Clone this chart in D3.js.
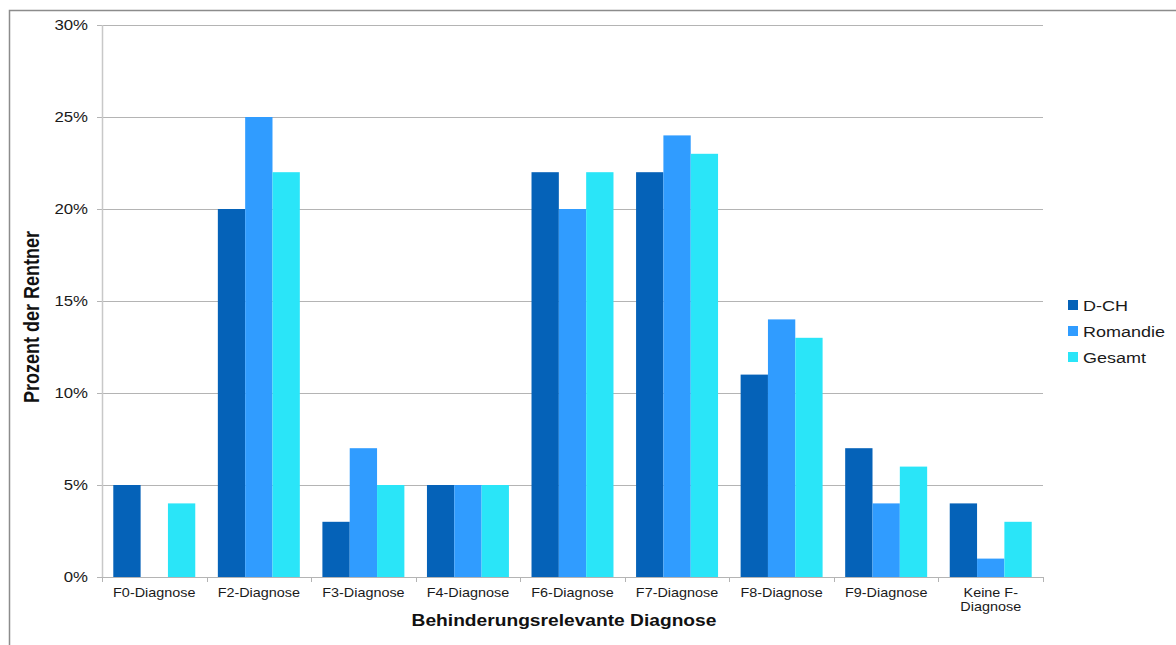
<!DOCTYPE html>
<html>
<head>
<meta charset="utf-8">
<script src="https://cdn.jsdelivr.net/npm/d3@7"></script>
<style>
  html, body { margin: 0; padding: 0; background: #fff; }
  svg { display: block; font-family: "Liberation Sans", Arial, sans-serif; }
</style>
</head>
<body>
<svg id="chart" width="1176" height="645"></svg>
<script>
const categories = ["F0-Diagnose", "F2-Diagnose", "F3-Diagnose", "F4-Diagnose", "F6-Diagnose", "F7-Diagnose", "F8-Diagnose", "F9-Diagnose", "Keine F-Diagnose"];
const seriesNames = ["D-CH", "Romandie", "Gesamt"];
const dch      = [5, 20, 3, 5, 22, 22, 11, 7, 4];
const romandie = [0, 25, 7, 5, 20, 24, 14, 4, 1];
const gesamt   = [4, 22, 5, 5, 22, 23, 13, 6, 3];
const yTicks = [0, 5, 10, 15, 20, 25, 30];
const colors = ["#0562b8", "#309cff", "#2ae5f8"];

(function () {
const seriesValues = [dch, romandie, gesamt];
const SX = 1.2; // horizontal stretch of text in the reference

const svg = d3.select("#chart");
const pLeft = 102, pRight = 1043, pTop = 25, pBottom = 577;

// outer border
svg.append("rect").attr("x", 9.5).attr("y", 10.5).attr("width", 1200).attr("height", 700)
  .attr("fill", "none").attr("stroke", "#8c8c8c").attr("stroke-width", 1.5);

const x = d3.scaleBand().domain(categories).range([pLeft, pRight]).padding(0);
const off = x.bandwidth() * 0.108;
const xs = d3.scaleBand().domain(seriesNames).range([off, x.bandwidth() - off]).padding(0);
const y = d3.scaleLinear().domain([0, 30]).range([pBottom, pTop]);

// gridlines
svg.append("g").selectAll("line").data(yTicks.filter(d => d > 0)).join("line")
  .attr("x1", pLeft - 5).attr("x2", pRight)
  .attr("y1", d => Math.round(y(d)) + 0.5).attr("y2", d => Math.round(y(d)) + 0.5)
  .attr("stroke", "#b4b4b4").attr("stroke-width", 1);

// bars
const rows = categories.map((c, i) => ({ c, vals: seriesNames.map((s, j) => ({ s, j, v: seriesValues[j][i] })) }));
const groups = svg.append("g").selectAll("g").data(rows).join("g")
  .attr("transform", d => `translate(${x(d.c)},0)`);
groups.selectAll("rect").data(d => d.vals.filter(e => e.v > 0)).join("rect")
  .attr("x", d => xs(d.s))
  .attr("width", xs.bandwidth())
  .attr("y", d => y(d.v))
  .attr("height", d => y(0) - y(d.v))
  .attr("fill", d => colors[d.j]);

// y axis line
svg.append("line").attr("x1", pLeft + 0.5).attr("x2", pLeft + 0.5).attr("y1", pTop).attr("y2", pBottom)
  .attr("stroke", "#c8c8c8").attr("stroke-width", 1.5);
// x axis line
svg.append("line").attr("x1", pLeft - 5).attr("x2", pRight).attr("y1", pBottom + 0.5).attr("y2", pBottom + 0.5)
  .attr("stroke", "#b4b4b4").attr("stroke-width", 1);
// x ticks at band boundaries
const bounds = categories.map(c => x(c)).concat([pRight]);
svg.append("g").selectAll("line").data(bounds).join("line")
  .attr("x1", d => Math.round(d) + 0.5).attr("x2", d => Math.round(d) + 0.5)
  .attr("y1", pBottom).attr("y2", pBottom + 5)
  .attr("stroke", "#b4b4b4");

// y tick labels
svg.append("g").selectAll("text").data(yTicks).join("text")
  .attr("transform", d => `translate(88,${y(d) + 5}) scale(${SX},1)`)
  .attr("text-anchor", "end").attr("font-size", 14).attr("fill", "#1a1a1a")
  .text(d => d + "%");

// x tick labels
const xl = svg.append("g").selectAll("text").data(categories).join("text")
  .attr("transform", d => `translate(${x(d) + x.bandwidth() / 2},597) scale(${SX},1)`)
  .attr("text-anchor", "middle").attr("font-size", 12).attr("fill", "#1a1a1a");
xl.each(function(d) {
  const t = d3.select(this);
  if (d === "Keine F-Diagnose") {
    t.append("tspan").attr("x", 0).attr("dy", 0).text("Keine F-");
    t.append("tspan").attr("x", 0).attr("dy", 14).text("Diagnose");
  } else {
    t.text(d);
  }
});

// axis titles
svg.append("text")
  .attr("transform", `translate(564,626) scale(${SX},1)`)
  .attr("text-anchor", "middle").attr("font-size", 16).attr("font-weight", "bold").attr("fill", "#111")
  .text("Behinderungsrelevante Diagnose");
svg.append("text")
  .attr("transform", `translate(39,317) scale(${SX},1) rotate(-90)`)
  .attr("text-anchor", "middle").attr("font-size", 18).attr("font-weight", "bold").attr("fill", "#111")
  .text("Prozent der Rentner");

// legend
const legendY = [305, 331, 357];
const lg = svg.append("g").selectAll("g").data(seriesNames).join("g")
  .attr("transform", (d, i) => `translate(1068,${legendY[i]})`);
lg.append("rect").attr("x", 0).attr("y", -5).attr("width", 10).attr("height", 10)
  .attr("fill", (d, i) => colors[i]);
lg.append("text").attr("transform", `translate(15,6) scale(${SX},1)`)
  .attr("font-size", 15).attr("fill", "#1a1a1a").text(d => d);
})();
</script>
</body>
</html>
